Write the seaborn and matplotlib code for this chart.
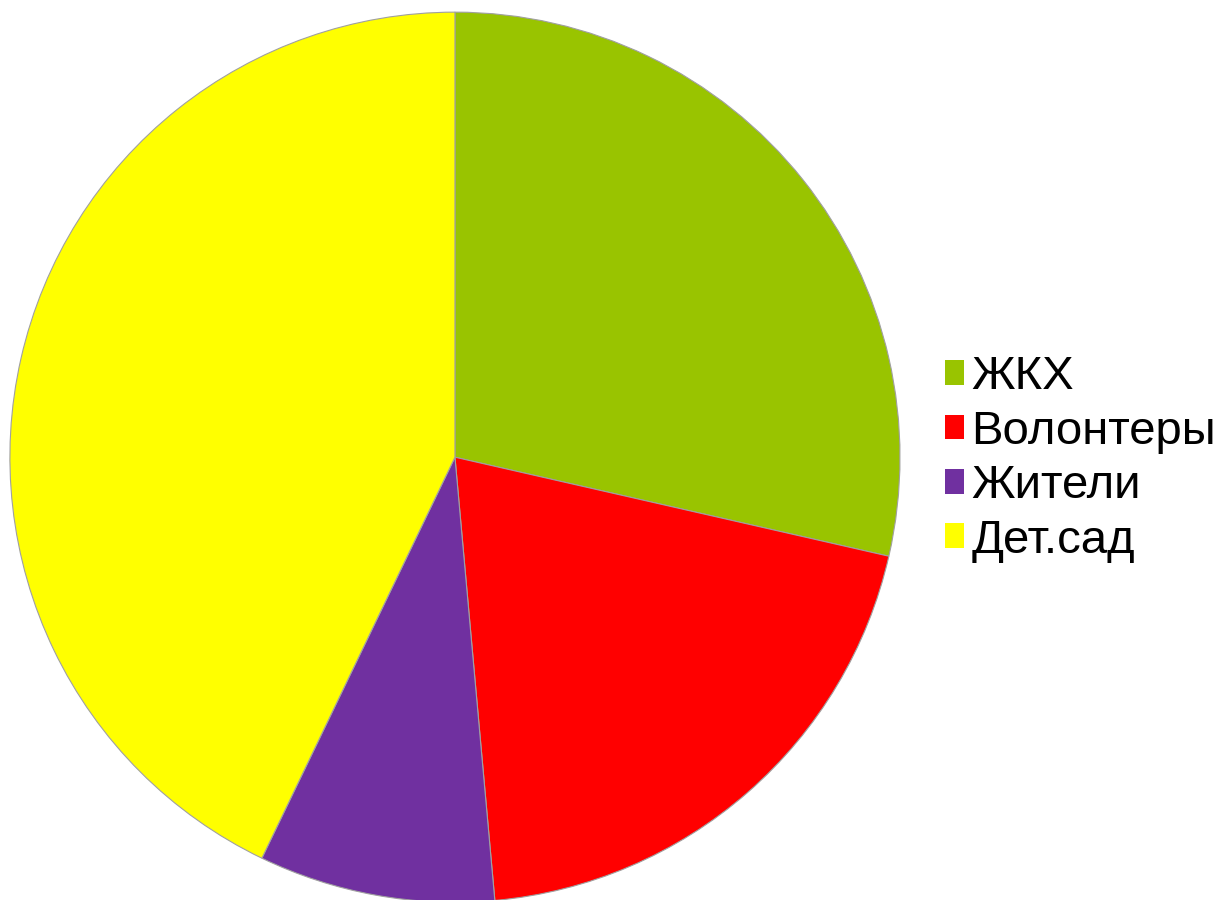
import matplotlib.pyplot as plt
import seaborn as sns

sns.set_theme(style="white")
plt.rcParams["font.family"] = ["Liberation Sans", "DejaVu Sans"]

# shares (10 : 7 : 3 : 15)
labels = ["ЖКХ", "Волонтеры", "Жители", "Дет.сад"]
values = [10, 7, 3, 15]
colors = sns.color_palette(["#99c400", "#ff0000", "#7030a0", "#ffff00"])

fig = plt.figure(figsize=(12.23, 9), dpi=100)
ax = fig.add_axes([0.372 - 0.364, 0.492 - 0.4945, 0.728, 0.989])

wedges, _ = ax.pie(
    values,
    colors=colors,
    startangle=90,
    counterclock=False,
    wedgeprops={"edgecolor": "#a0a0a0", "linewidth": 0.8},
)
ax.set_xlim(-1.0, 1.0)
ax.set_ylim(-1.0, 1.0)
ax.set_aspect("equal")

leg = fig.legend(
    wedges,
    labels,
    loc="center left",
    bbox_to_anchor=(0.753, 0.49),
    frameon=False,
    fontsize=34,
    labelcolor="black",
    handlelength=0.42,
    handleheight=0.42,
    handletextpad=0.15,
    labelspacing=0.22,
    borderpad=0,
)
for h in leg.legend_handles:
    h.set_edgecolor("none")

plt.savefig("out.png", dpi=100)
